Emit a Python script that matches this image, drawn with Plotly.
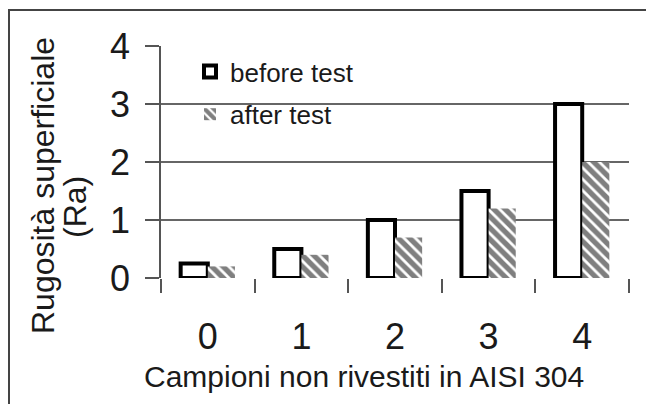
import plotly.graph_objects as go

categories = ["0", "1", "2", "3", "4"]
before_test = [0.25, 0.5, 1.0, 1.5, 3.0]
after_test = [0.2, 0.4, 0.7, 1.2, 2.0]
y_ticks = [0, 1, 2, 3, 4]

FONT = "Liberation Sans, Arial, sans-serif"
TXT = "#1a1a1a"

fig = go.Figure()
fig.add_trace(go.Bar(
    x=categories, y=before_test, name="before test",
    legendgroup="a",
    marker=dict(color="white", line=dict(color="black", width=4)),
))
fig.add_trace(go.Bar(
    x=categories, y=after_test, name="after test",
    legendgroup="b",
    marker=dict(color="white", line=dict(color="white", width=0),
                pattern=dict(shape="\\", fgcolor="black", bgcolor="white",
                             size=8, solidity=0.65)),
))

W, H = 646, 404
L, R, T, B = 161, 17, 46, 126
pw, ph = W - L - R, H - T - B

def px_to_paper_x(px):
    return (px - L) / pw

def px_to_paper_y(py):
    return (H - B - py) / ph

fig.update_layout(
    width=W, height=H,
    margin=dict(l=L, r=R, t=T, b=B, pad=0),
    paper_bgcolor="white", plot_bgcolor="white",
    barmode="group", bargap=0.42, bargroupgap=0,
    font=dict(family=FONT, color=TXT),
    showlegend=True,
    legend=dict(
        x=px_to_paper_x(190), y=px_to_paper_y(48), xanchor="left", yanchor="top",
        font=dict(family=FONT, size=26, color=TXT),
        bgcolor="rgba(0,0,0,0)", borderwidth=0,
        traceorder="grouped", tracegroupgap=6,
    ),
    xaxis=dict(
        type="category", tickson="boundaries", ticks="outside", ticklen=14,
        tickcolor="#555", tickwidth=1.5,
        showline=False, showgrid=False, zeroline=False,
        tickfont=dict(family=FONT, size=36, color=TXT),
        ticklabelstandoff=34,
    ),
    yaxis=dict(
        range=[0, 4], tickvals=y_ticks, ticks="outside", ticklen=14,
        tickcolor="#555", tickwidth=1.5,
        showline=True, linecolor="#555", linewidth=1.5,
        showgrid=True, gridcolor="#666", gridwidth=1.5,
        zeroline=False,
        tickfont=dict(family=FONT, size=36, color=TXT),
        ticklabelstandoff=8,
    ),
)

# axis titles
fig.add_annotation(
    text="Campioni non rivestiti in AISI 304",
    xref="paper", yref="paper",
    x=px_to_paper_x(364), y=px_to_paper_y(376),
    showarrow=False, xanchor="center", yanchor="middle",
    font=dict(family=FONT, size=30, color=TXT),
)
fig.add_annotation(
    text="Rugosità superficiale",
    xref="paper", yref="paper",
    x=px_to_paper_x(43), y=px_to_paper_y(186),
    showarrow=False, xanchor="center", yanchor="middle", textangle=-90,
    font=dict(family=FONT, size=32, color=TXT),
)
fig.add_annotation(
    text="(Ra)",
    xref="paper", yref="paper",
    x=px_to_paper_x(75), y=px_to_paper_y(207),
    showarrow=False, xanchor="center", yanchor="middle", textangle=-90,
    font=dict(family=FONT, size=32, color=TXT),
)

# outer frame: only left and top edges are visible (image is cropped);
# drawn as thin filled strips kept inside the canvas
FRAME = "#444"
fig.add_shape(
    type="rect", xref="paper", yref="paper",
    x0=px_to_paper_x(8), x1=px_to_paper_x(10),
    y0=px_to_paper_y(H), y1=px_to_paper_y(9),
    line=dict(width=0), fillcolor=FRAME, layer="below",
)
fig.add_shape(
    type="rect", xref="paper", yref="paper",
    x0=px_to_paper_x(8), x1=px_to_paper_x(W),
    y0=px_to_paper_y(11), y1=px_to_paper_y(9),
    line=dict(width=0), fillcolor=FRAME, layer="below",
)

fig.write_html(
    "out.html", config={"displayModeBar": False},
    post_script=(
        "document.body.style.margin='0';"
        "document.body.style.overflow='hidden';"
        "document.documentElement.style.overflow='hidden';"
    ),
)
